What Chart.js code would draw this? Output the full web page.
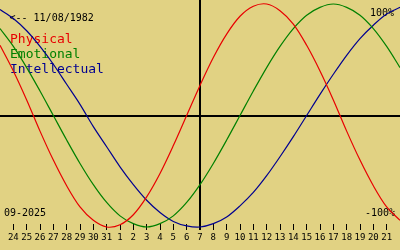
<!DOCTYPE html>
<html><head><meta charset="utf-8">
<script src="https://cdn.jsdelivr.net/npm/chart.js@4/dist/chart.umd.min.js"></script>
<style>html,body{margin:0;padding:0;background:#e1d283;overflow:hidden}canvas{display:block}</style>
</head><body>
<canvas id="c" width="400" height="250"></canvas>
<script>
// Day offsets relative to the marked day (07 Sep 2025)
const dayOffsets = [-15,-14,-13,-12,-11,-10,-9,-8,-7,-6,-5,-4,-3,-2,-1,0,1,2,3,4,5,6,7,8,9,10,11,12,13,14,15];
const tickOffsets = [-14,-13,-12,-11,-10,-9,-8,-7,-6,-5,-4,-3,-2,-1,0,1,2,3,4,5,6,7,8,9,10,11,12,13,14];
const dayLabels = ['24','25','26','27','28','29','30','31','1','2','3','4','5','6','7','8','9','10','11','12','13','14','15','16','17','18','19','20','21'];
// Values in percent
const physical = [63,40,14,-14,-40,-63,-82,-94,-100,-98,-89,-73,-52,-27,0,27,52,73,89,98,100,94,82,63,40,14,-14,-40,-63,-82,-94];
const emotional = [78,62,43,22,0,-22,-43,-62,-78,-90,-97,-100,-97,-90,-78,-62,-43,-22,0,22,43,62,78,90,97,100,97,90,78,62,43];
const intellectual = [95,87,76,62,46,28,10,-10,-28,-46,-62,-76,-87,-95,-99,-100,-97,-91,-81,-69,-54,-37,-19,0,19,37,54,69,81,91,97];
const seriesNames = ['Physical','Emotional','Intellectual'];
const birthLabel = '<-- 11/08/1982';
const monthLabel = '09-2025';
const maxLabel = '100%';
const minLabel = '-100%';

const colors = ['#e80000','#008000','#000090'];
const BG = '#e1d283';
const FONT = '"DejaVu Sans Mono", monospace';

function pts(vals){ return dayOffsets.map((d,i)=>({x:d, y:vals[i]})); }

const bgPlugin = {
  id:'bg',
  beforeDraw(chart){
    const c = chart.ctx; c.save(); c.fillStyle = BG; c.fillRect(0,0,chart.width,chart.height); c.restore();
  },
  beforeDatasetsDraw(chart){
    const c = chart.ctx; c.save();
    c.textBaseline = 'alphabetic';
    c.fillStyle = '#000';
    c.font = '10px ' + FONT;
    c.textAlign = 'left';
    c.fillText(birthLabel, 9.5, 21);
    c.fillText(monthLabel, 4, 216);
    c.textAlign = 'right';
    c.fillText(maxLabel, 394, 16);
    c.fillText(minLabel, 395, 216);
    c.font = '13px ' + FONT;
    c.textAlign = 'left';
    seriesNames.forEach((n,i)=>{ c.fillStyle = colors[i]; c.fillText(n, 10, 42.5 + i*15.3); });
    c.restore();
  }
};

const isZero = ctx => ctx.tick && ctx.tick.value === 0;

new Chart(document.getElementById('c'), {
  type:'line',
  data:{
    datasets:[physical, emotional, intellectual].map((v,i)=>({
      label: seriesNames[i],
      data: pts(v),
      borderColor: colors[i],
      borderWidth: 1.2,
      pointRadius: 0,
      fill: false,
      tension: 0.33,
      clip: false
    }))
  },
  options:{
    responsive:false,
    devicePixelRatio:1,
    animation:false,
    layout:{padding:0},
    plugins:{legend:{display:false}, tooltip:{enabled:false}},
    scales:{
      x:{
        type:'linear', min:-15, max:15,
        afterBuildTicks: s => { s.ticks = tickOffsets.map(v=>({value:v})); },
        afterFit: s => { s.height = 26; },
        ticks:{
          autoSkip:false, maxRotation:0, padding:2,
          color:'#000',
          font:{family:'DejaVu Sans Mono', size:9},
          callback:(v,i)=>dayLabels[i]
        },
        grid:{
          drawOnChartArea:true,
          color: ctx => isZero(ctx) ? '#000' : 'rgba(0,0,0,0)',
          lineWidth: ctx => isZero(ctx) ? 2 : 1,
          tickColor:'#000',
          tickWidth: ctx => isZero(ctx) ? 2 : 1,
          tickLength:6
        },
        border:{display:false}
      },
      y:{
        min:-97.3, max:103.6,
        afterBuildTicks: s => { s.ticks = [{value:0}]; },
        afterFit: s => { s.width = 0; },
        ticks:{display:false},
        grid:{color:'#000', lineWidth:2, drawTicks:false},
        border:{display:false}
      }
    }
  },
  plugins:[bgPlugin]
});
</script>
</body></html>
